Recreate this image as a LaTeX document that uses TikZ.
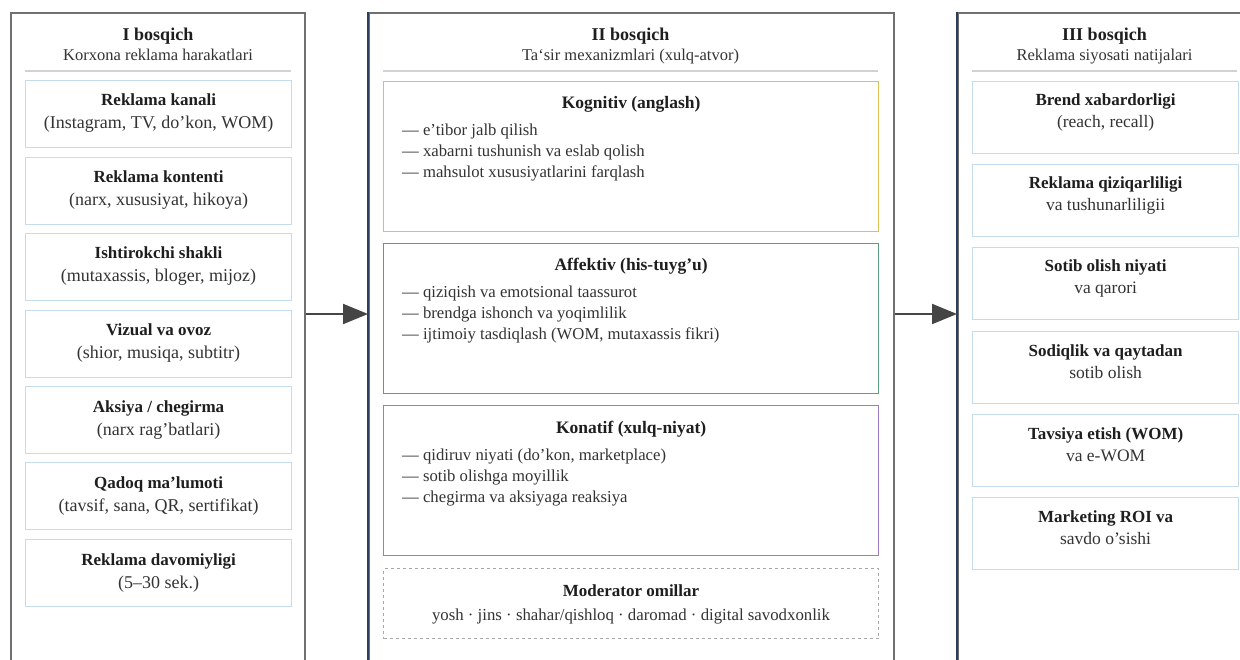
\documentclass[tikz,border=0pt]{standalone}
\usepackage{fontspec}
\setmainfont{Liberation Serif}
\usetikzlibrary{arrows.meta,calc}
\definecolor{colgray}{HTML}{707070}
\definecolor{navy}{HTML}{2C3E5C}
\definecolor{sepgray}{HTML}{D2D2D2}
\definecolor{lblue}{HTML}{C4DCEE}
\definecolor{gold}{HTML}{DCC15A}
\definecolor{mgreen}{HTML}{5B9E80}
\definecolor{mpurple}{HTML}{A27BBD}
\definecolor{dashgray}{HTML}{A8A8A8}
\definecolor{arrgray}{HTML}{454545}
\definecolor{txt}{HTML}{1E1E1E}
\definecolor{txtb}{HTML}{333333}
\tikzset{
  colbox/.style={draw=colgray, line width=1.6pt, fill=white, anchor=north west, inner sep=0pt},
  lbox/.style={draw=lblue, line width=1.2pt, fill=white, anchor=north west, minimum width=266pt, inner sep=0pt},
  mbox/.style={line width=1.3pt, fill=white, anchor=north west, minimum width=495pt, minimum height=150pt, inner sep=0pt},
  hd/.style={font=\fontsize{18}{21}\selectfont\bfseries, text=txt, inner sep=0pt, anchor=base},
  sub/.style={font=\fontsize{16.5}{19}\selectfont, text=txtb, inner sep=0pt, anchor=base},
  ttl/.style={font=\fontsize{17}{20}\selectfont\bfseries, text=txt, inner sep=0pt, anchor=base},
  mttl/.style={font=\fontsize{17.5}{20}\selectfont\bfseries, text=txt, inner sep=0pt, anchor=base},
  bdy/.style={font=\fontsize{18}{21}\selectfont, text=txtb, inner sep=0pt, anchor=base},
  rbdy/.style={font=\fontsize{17.5}{21}\selectfont, text=txtb, inner sep=0pt, anchor=base},
  item/.style={font=\fontsize{16.7}{19}\selectfont, text=txtb, inner sep=0pt, anchor=base west},
  modb/.style={font=\fontsize{16.8}{19}\selectfont, text=txtb, inner sep=0pt, anchor=base},
  sep/.style={draw=sepgray, line width=1.3pt},
  arr/.style={draw=arrgray, line width=2pt, -{Triangle[length=25pt,width=20pt]}},
  accent/.style={draw=navy, line width=2.2pt}
}
\begin{document}
\begin{tikzpicture}[x=1pt,y=-1pt]
\useasboundingbox (0,0) rectangle (1240,660);
\clip (0,0) rectangle (1240,660);
\fill[white] (0,0) rectangle (1240,660);

% columns
\node[colbox, minimum width=294pt, minimum height=700pt] (c1) at (10,12) {};
\node[colbox, minimum width=525pt, minimum height=700pt] (c2) at (368,12) {};
\node[colbox, minimum width=300pt, minimum height=700pt] (c3) at (957,12) {};
\draw[accent] (c2.north west) -- (c2.south west);
\draw[accent] (c3.north west) -- (c3.south west);

% arrows
\coordinate (ay) at (0,314);
\draw[arr] (c1.east |- ay) -- (c2.west |- ay);
\draw[arr] (c2.east |- ay) -- (c3.west |- ay);

% headers
\node[hd] (h1) at (158,41) {I bosqich};
\node[sub] (s1) at (158,61) {Korxona reklama harakatlari};
\draw[sep] (25,71) -- (291,71);
\node[hd] (h2) at (630.5,41) {II bosqich};
\node[sub] (s2) at (630.5,61) {Ta‘sir mexanizmlari (xulq-atvor)};
\draw[sep] (383,71) -- (878,71);
\node[hd] (h3) at (1104.5,41) {III bosqich};
\node[sub] (s3) at (1104.5,61) {Reklama siyosati natijalari};
\draw[sep] (972,71) -- (1237,71);

% left boxes
\foreach \n/\y/\a/\b in {
  1/80/{Reklama kanali}/{(Instagram, TV, do’kon, WOM)},
  2/157/{Reklama kontenti}/{(narx, xususiyat, hikoya)},
  3/233/{Ishtirokchi shakli}/{(mutaxassis, bloger, mijoz)},
  4/310/{Vizual va ovoz}/{(shior, musiqa, subtitr)},
  5/386/{Aksiya / chegirma}/{(narx rag’batlari)},
  6/462/{Qadoq ma’lumoti}/{(tavsif, sana, QR, sertifikat)},
  7/539/{Reklama davomiyligi}/{(5–30 sek.)}}{
  \node[lbox, minimum height=67pt] (l\n) at (25,\y) {};
  \node[ttl] (lt\n) at ([yshift=-26pt]l\n.north) {\a};
  \node[bdy] (lb\n) at ([yshift=-49pt]l\n.north) {\b};
}

% right boxes
\foreach \n/\y/\a/\b in {
  1/81/{Brend xabardorligi}/{(reach, recall)},
  2/164/{Reklama qiziqarliligi}/{va tushunarliligii},
  3/247/{Sotib olish niyati}/{va qarori},
  4/331/{Sodiqlik va qaytadan}/{sotib olish},
  5/414/{Tavsiya etish (WOM)}/{va e-WOM},
  6/497/{Marketing ROI va}/{savdo o’sishi}}{
  \node[lbox, minimum height=72pt] (r\n) at (972,\y) {};
  \node[ttl] (rt\n) at ([yshift=-25pt]r\n.north) {\a};
  \node[rbdy] (rb\n) at ([yshift=-47pt]r\n.north) {\b};
}

% middle boxes
\node[mbox, draw=gold] (m1) at (383,81) {};
\node[mttl] (m1t) at ([yshift=-28pt]m1.north) {Kognitiv (anglash)};
\node[item] (m1a) at (402,136) {— e’tibor jalb qilish};
\node[item] (m1b) at (402,157) {— xabarni tushunish va eslab qolish};
\node[item] (m1c) at (402,178) {— mahsulot xususiyatlarini farqlash};

\node[mbox, draw=mgreen] (m2) at (383,243) {};
\node[mttl] (m2t) at ([yshift=-28pt]m2.north) {Affektiv (his-tuyg’u)};
\node[item] (m2a) at (402,298) {— qiziqish va emotsional taassurot};
\node[item] (m2b) at (402,319) {— brendga ishonch va yoqimlilik};
\node[item] (m2c) at (402,340) {— ijtimoiy tasdiqlash (WOM, mutaxassis fikri)};

\node[mbox, draw=mpurple] (m3) at (383,405) {};
\node[mttl] (m3t) at ([yshift=-28pt]m3.north) {Konatif (xulq-niyat)};
\node[item] (m3a) at (402,460) {— qidiruv niyati (do’kon, marketplace)};
\node[item] (m3b) at (402,481) {— sotib olishga moyillik};
\node[item] (m3c) at (402,502) {— chegirma va aksiyaga reaksiya};

\node[draw=dashgray, dashed, line width=1pt, fill=white, anchor=north west, minimum width=495pt, minimum height=70pt, inner sep=0pt] (m4) at (383,568) {};
\node[ttl] (m4t) at ([yshift=-28pt]m4.north) {Moderator omillar};
\node[modb] (m4b) at ([yshift=-52pt]m4.north) {yosh · jins · shahar/qishloq · daromad · digital savodxonlik};
\end{tikzpicture}
\end{document}
